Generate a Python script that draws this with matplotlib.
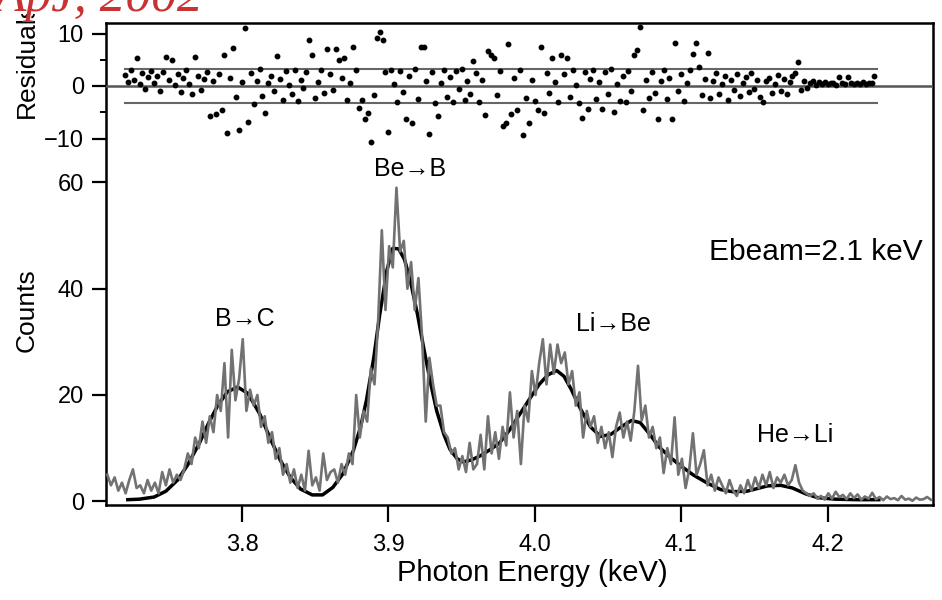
# pylint: disable=invalid-name
import matplotlib
matplotlib.use('Agg')
import matplotlib.pyplot as plt
from matplotlib.patches import Rectangle
import numpy as np

FONT = ['Liberation Sans Narrow', 'Liberation Sans', 'DejaVu Sans']

# Measured spectrum, counts per 2.5 eV bin starting at 3.708 keV
E_START = 3.708
E_STEP = 0.0025
counts = [
    # 3.708 - 3.758
    5, 3, 4.5, 2, 3.5, 1.5, 4, 6, 2.5, 3, 1.5, 4, 2, 3.5, 1.5, 5.5, 3, 6,
    3.5, 5, 4,
    # 3.7605 - 3.808
    6, 9, 7, 12, 10, 15, 11, 16, 13, 20, 17, 26, 12, 28.5, 19, 23, 30.5, 17,
    21, 18,
    # 3.8105 - 3.8605
    20, 14, 16, 11, 13, 8, 10, 5, 7, 3.5, 6, 2.5, 5, 2, 9.5, 3, 4.5, 2, 9, 4,
    5.5,
    # 3.863 - 3.958
    6, 3.5, 7, 5, 9, 7, 20, 12, 17, 15,
    25, 22, 34, 51, 36, 48, 44, 59, 47, 49,
    40, 45, 36, 42, 31, 15, 27, 22, 18, 18,
    13, 12, 9, 10, 6, 8.5, 5.5, 11, 6,
    # 3.9605 - 4.1255
    7, 12.5, 6, 16, 9, 13, 8, 14, 10.5, 20.5,
    12, 17, 7, 18, 15, 24.5, 20, 26, 30.5, 22,
    29.5, 24, 29.5, 26, 28, 22, 24.5, 18, 20.5, 12,
    17, 14, 16, 11, 14, 10, 13, 8.3, 14, 16.7,
    12, 15, 11.4, 17, 25.5, 15.2, 18, 12, 14, 10,
    12, 5.3, 10, 7, 15.8, 5, 8, 2.5, 6, 12.8,
    5, 7, 9.6, 3, 5, 2, 4.5,
    # 4.128 - 4.2705
    3, 1.5, 4, 2, 1, 3, 1.5, 4, 2, 4.5,
    2.5, 5, 3, 5.5, 2.5, 4.5, 3.5, 5, 3, 4,
    6.8, 3.5, 2, 1.5, 1, 1.5, 0.5, 1, 0.3, 1.5,
    0.5, 1.8, 0.8, 1.2, 0.4, 1.5, 0.6, 1.3, 0.3, 0.9,
    0.5, 1.6, 0.4, 0.8, 0.2, 0.9, 0.4, 0.6, 0.2, 1.0,
    0.3, 0.5, 0.1, 0.7, 0.3, 0.4, 0.8, 0.3,
]

# Model fit (sum of line profiles)
fit_energy = [
    3.722, 3.730, 3.740, 3.748, 3.756, 3.763, 3.771, 3.777, 3.783, 3.790,
    3.797, 3.804, 3.812, 3.819, 3.826, 3.833, 3.840, 3.848, 3.855, 3.862,
    3.869, 3.876, 3.881, 3.885, 3.890, 3.894, 3.899, 3.903, 3.907, 3.911,
    3.915, 3.920, 3.924, 3.929, 3.933, 3.938, 3.942, 3.947, 3.951, 3.957,
    3.963, 3.970, 3.976, 3.983, 3.990, 3.997, 4.003, 4.009, 4.015, 4.020,
    4.025, 4.031, 4.038, 4.045, 4.052, 4.059, 4.066, 4.072, 4.078, 4.085,
    4.092, 4.099, 4.108, 4.118, 4.127, 4.135, 4.145, 4.152, 4.159, 4.168,
    4.176, 4.185, 4.193, 4.205, 4.220, 4.235,
]
fit_counts = [
    0.3, 0.4, 0.8, 1.9, 4.0, 6.9, 11.0, 14.6, 17.8, 20.6,
    21.5, 20.3, 16.5, 12.0, 7.8, 4.5, 2.3, 1.2, 1.2, 2.6,
    5.2, 9.5, 14.0, 19.0, 27.0, 35.0, 43.5, 47.6, 47.5, 45.5,
    41.5, 35.0, 29.0, 22.0, 17.0, 12.5, 9.8, 8.0, 7.4, 7.8,
    8.6, 9.8, 11.0, 13.5, 16.5, 19.5, 22.0, 23.8, 24.6, 23.5,
    21.0, 17.5, 14.0, 12.2, 12.6, 14.0, 15.2, 14.8, 12.8, 10.2,
    8.4, 6.8, 5.0, 3.4, 2.2, 1.8, 1.9, 2.4, 2.9, 3.0,
    2.5, 1.4, 0.7, 0.4, 0.3, 0.3,
]

# Fit residuals, one per 2 eV starting at 3.720 keV
RES_START = 3.720
RES_STEP = 0.002
residuals = [
    2.1, 0.8, 3.0, 1.2, 5.4, 0.3, 2.4, -0.6, 1.7, 2.8,
    0.5, 1.9, -1.0, 2.6, 5.6, 1.1, 5.0, 0.2, 2.2, -1.2,
    1.5, 3.1, 0.4, -1.6, 5.5, 2.0, -0.8, 1.3, 2.7, -5.8,
    0.9, -5.3, 2.3, -4.6, 5.9, -9.0, 1.6, 7.2, -2.1, -8.4,
    0.7, 11.0, -6.9, 2.5, -3.5, 1.0, 3.2, -1.9, -5.1, 0.6,
    2.0, -0.9, 5.8, 1.4, -2.6, 2.9, 0.1, -1.6, 3.0, -2.8,
    1.2, -0.4, 2.6, 8.8, 5.9, -2.3, 0.8, 3.1, -1.3, 7.0,
    2.2, -0.7, 7.0, 5.0, 1.5, 5.4, -2.7, 0.6, 7.5, 3.0,
    -4.2, -2.7, -6.2, -5.2, -10.6, -1.7, 9.1, 10.3, 8.8, 2.6,
    -8.7, 3.1, 0.4, -3.0, 2.8, -1.1, -6.2, 1.9, -7.1, 3.2,
    -2.4, 7.5, 7.5, 1.0, -9.1, 2.7, -3.2, -5.8, 0.5, 3.1,
    -2.0, 1.7, -3.1, 2.9, -0.6, 3.3, -2.7, 0.9, -1.5, 4.8,
    2.4, -3.0, 1.2, -5.5, 6.7, 5.9, 5.3, -1.8, 2.8, -7.7,
    -7.1, 8.0, -5.4, 1.6, -4.6, 3.0, -9.3, -2.2, -7.1, 1.1,
    -2.9, -4.6, 7.5, -5.2, 2.5, -1.4, 5.3, 0.7, -3.1, 6.0,
    2.2, 5.4, -2.0, 3.1, 0.2, -3.3, -6.0, 2.7, -4.4, 1.3,
    3.0, -2.5, 0.8, -4.4, 2.6, -1.6, 3.2, -4.9, 0.4, -2.8,
    1.9, -3.0, 2.8, -0.9, 6.0, 6.9, 11.3, -4.6, 1.2, -2.2,
    2.7, -1.3, -6.3, 0.9, 3.0, -2.5, 1.6, -6.2, 8.2, -1.0,
    2.3, -2.9, 0.5, 3.0, 6.1, 8.1, 3.6, -1.8, 1.4, 6.3,
    -2.2, 1.0, 2.5, -1.5, 0.3, 2.0, -2.6, 1.2, -0.8, 2.2,
    -1.9, 0.6, 1.8, -1.2, 2.4, -0.5, 1.1, -2.0, -3.1, 0.9,
    1.6, -1.4, 0.3, 2.1, -0.9, 1.3, -1.6, 0.7, 1.9, 2.4,
    4.6, -0.8, 1.0, -0.4, 0.6, 0.9, 0.2, 0.7, 0.4, 0.8,
    0.3, 0.6, 0.5, 0.2, 1.8, 0.5, 0.3, 1.8, 0.6, 0.4,
    0.5, 0.3, 0.7, 0.4, 0.6, 0.5, 1.9,
]
res_band = 3.3

energy_ticks = [3.8, 3.9, 4.0, 4.1, 4.2]
count_ticks = [0, 20, 40, 60]
res_ticks = [-10, 0, 10]
res_minor = [-5, 5]

transitions = ['B→C', 'Be→B', 'Li→Be', 'He→Li']
label_xy = [(3.802, 34.3), (3.915, 62.5), (4.054, 33.4), (4.178, 12.4)]


def plot_spectrum(ax):
    '''Counts panel: data, fit and transition labels.'''
    energy = E_START + E_STEP * np.arange(len(counts))
    ax.plot(fit_energy, fit_counts, color='black', lw=2.5, zorder=2)
    ax.plot(energy, counts, color='#727272', lw=1.9, zorder=3)

    for text, (x, y) in zip(transitions, label_xy):
        ax.text(x, y, text, ha='center', va='center', fontsize=18,
                family=FONT)
    ax.text(4.192, 47, 'Ebeam=2.1 keV', ha='center', va='center',
            fontsize=21.5, family=FONT)

    ax.set_xlim(3.7071, 4.272)
    ax.set_ylim(-0.7, 90)
    ax.set_xticks(energy_ticks)
    ax.set_xticklabels(['%.1f' % t for t in energy_ticks])
    ax.set_yticks(count_ticks)
    ax.tick_params(direction='out', length=10, width=1.6, labelsize=17,
                   pad=6)
    ax.tick_params(axis='x', length=12, pad=9)
    for lab in ax.get_xticklabels() + ax.get_yticklabels():
        lab.set_family(FONT)
    for spine in ax.spines.values():
        spine.set_linewidth(1.8)
    ax.set_xlabel('Photon Energy (keV)', fontsize=21, family=FONT,
                  labelpad=2)
    ax.xaxis.label.set_x(0.516)


def plot_residuals(ax):
    '''Residual panel overlaid on the top of the counts frame.'''
    energy = RES_START + RES_STEP * np.arange(len(residuals))
    ax.axhline(0, color='#555555', lw=1.8, zorder=1)
    lo, hi = energy[0], energy[-1] + 0.0015
    ax.plot([lo, hi], [res_band, res_band], color='#666666', lw=1.5)
    ax.plot([lo, hi], [-res_band, -res_band], color='#666666', lw=1.5)
    ax.plot(energy, residuals, 'o', color='black', markersize=3.2,
            zorder=3)

    ax.set_xlim(3.7071, 4.272)
    ax.set_ylim(-12, 12)
    ax.set_yticks(res_ticks)
    ax.set_yticks(res_minor, minor=True)
    ax.set_xticks([])
    ax.patch.set_visible(False)
    for spine in ax.spines.values():
        spine.set_visible(False)
    ax.tick_params(axis='y', direction='out', length=10, width=1.6,
                   labelsize=17, pad=6)
    ax.tick_params(axis='y', which='minor', direction='out', length=4,
                   width=1.4)
    for lab in ax.get_yticklabels():
        lab.set_family(FONT)


def main():
    '''main method.'''
    fig = plt.figure(figsize=(9.42, 6.0), dpi=100)
    ax = fig.add_axes([106 / 942, 95 / 600, 827 / 942, 482 / 600])
    res = fig.add_axes([106 / 942, 451 / 600, 827 / 942, 126 / 600])
    plot_spectrum(ax)
    plot_residuals(res)

    fig.text(27 / 942, 1 - 310 / 600, 'Counts', rotation=90, ha='center',
             va='center', fontsize=19, family=FONT)
    fig.text(27 / 942, 1 - 118 / 600, 'Residuals', rotation=90,
             ha='center', va='bottom', fontsize=19, family=FONT)

    # white strip across the top with the citation over it
    fig.patches.append(Rectangle((0, 1 - 14 / 600), 1, 14 / 600,
                                 transform=fig.transFigure,
                                 facecolor='white', edgecolor='none',
                                 zorder=5))
    fig.text(-0.006, 1 - 11 / 600, 'ApJ, 2002', ha='left', va='baseline',
             fontsize=37, style='italic', color='#c83232', zorder=6,
             family=['Liberation Serif', 'DejaVu Serif'])

    fig.savefig('out.png', dpi=100)


if __name__ == '__main__':
    main()
